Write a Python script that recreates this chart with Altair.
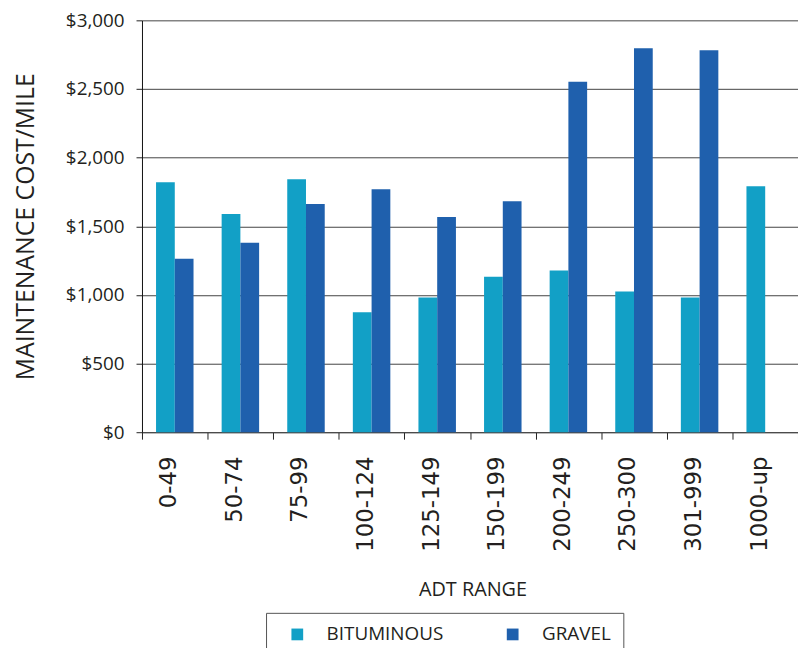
import altair as alt
import pandas as pd

categories = ["0-49", "50-74", "75-99", "100-124", "125-149", "150-199",
              "200-249", "250-300", "301-999", "1000-up"]
bituminous = [1820, 1590, 1843, 873, 982, 1133, 1177, 1025, 982, 1792]
gravel = [1264, 1380, 1662, 1770, 1568, 1683, 2552, 2797, 2783, None]
series = ["BITUMINOUS", "GRAVEL"]
colors = ["#12a0c6", "#1f60ad"]
y_ticks = [0, 500, 1000, 1500, 2000, 2500, 3000]

rows = []
for c, b, g in zip(categories, bituminous, gravel):
    rows.append({"range": c, "type": "BITUMINOUS", "cost": b})
    if g is not None:
        rows.append({"range": c, "type": "GRAVEL", "cost": g})
df = pd.DataFrame(rows)

TXT = "#231f20"

chart = alt.Chart(df).mark_bar().encode(
    x=alt.X(
        "range:N", sort=categories,
        scale=alt.Scale(paddingInner=0, paddingOuter=0),
        axis=alt.Axis(
            title="ADT RANGE", labelAngle=270, labelAlign="right",
            labelBaseline="middle", labelFont="DejaVu Sans", labelFontSize=23,
            labelPadding=17, labelOffset=-6, tickBand="extent", tickSize=7,
            domainColor="#444", tickColor="#222", grid=False,
            labelColor=TXT, titleColor=TXT, titleFont="Open Sans",
            titleFontSize=20, titleFontWeight="normal", titleY=149,
            titleX=333, titleBaseline="top",
        ),
    ),
    xOffset=alt.XOffset("type:N", sort=series,
                        scale=alt.Scale(paddingInner=0, paddingOuter=0.75)),
    y=alt.Y(
        "cost:Q", scale=alt.Scale(domain=[0, 3000]),
        axis=alt.Axis(
            values=y_ticks, format="$,.0f", title="MAINTENANCE COST/MILE",
            labelFont="Open Sans", labelFontSize=19, labelColor=TXT,
            labelPadding=12, tickSize=6, tickColor="#222", domainColor="#111",
            gridColor="#444", gridWidth=1, titleFont="Open Sans",
            titleFontSize=25, titleFontWeight="normal", titleColor=TXT,
            titleX=-117, titleBaseline="middle", titleAngle=270,
        ),
    ),
    color=alt.Color(
        "type:N", scale=alt.Scale(domain=series, range=colors),
        legend=alt.Legend(
            title=None, orient="none", legendX=125, legendY=597,
            direction="horizontal", strokeColor="#555", fillColor="white",
            padding=12, symbolType="square", symbolSize=140, symbolOffset=10,
            symbolStrokeWidth=0, labelOffset=20, columnPadding=50,
            labelFont="Open Sans", labelFontSize=19, labelColor=TXT,
        ),
    ),
).properties(
    width=661, height=415,
    padding={"left": 135, "top": 10, "right": 0, "bottom": 215},
    autosize=alt.AutoSizeParams(type="none"),
).configure_view(stroke=None)

chart.save("out.html", embed_options={"renderer": "svg", "actions": False})
